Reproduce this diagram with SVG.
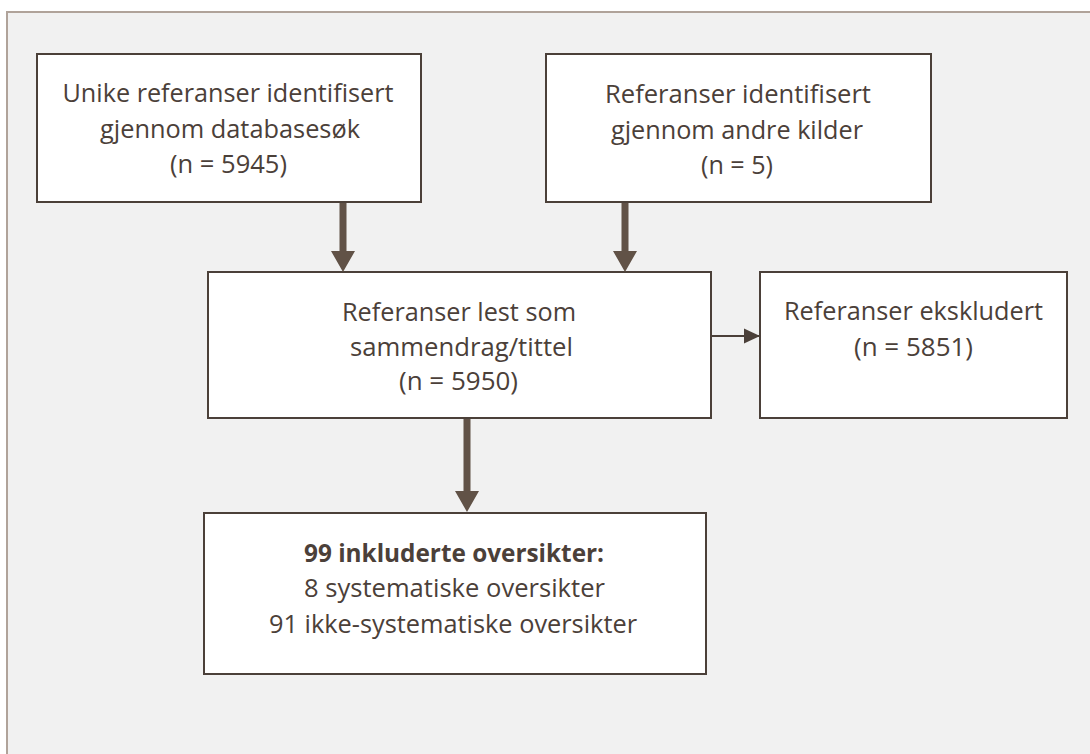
<svg xmlns="http://www.w3.org/2000/svg" width="1090" height="754" viewBox="0 0 1090 754">
<style>
.box{fill:#ffffff;stroke:#4b4039;stroke-width:2}
.t{font-family:"Open Sans","Liberation Sans",sans-serif;font-size:25px;fill:#4b4039;text-anchor:middle}
.b{font-weight:bold}
.thick{fill:#615247}
.thin{stroke:#4b4039;stroke-width:2;fill:none}
</style>
<defs>
<marker id="ah" markerUnits="userSpaceOnUse" markerWidth="16" markerHeight="16" refX="16" refY="8" orient="auto">
<path d="M0,0.5 L16,8 L0,15.5 Z" fill="#4b4039"/>
</marker>
</defs>
<rect x="0" y="0" width="1090" height="754" fill="#ffffff"/>
<rect x="7" y="12" width="1100" height="800" fill="#f1f1f1" stroke="#b0a39a" stroke-width="2"/>
<g id="n1">
<rect class="box" x="37" y="54" width="384" height="148"/>
<text class="t" x="228" y="102" textLength="331" lengthAdjust="spacingAndGlyphs">Unike referanser identifisert</text>
<text class="t" x="230" y="138" textLength="260" lengthAdjust="spacingAndGlyphs">gjennom databasesøk</text>
<text class="t" x="228.5" y="173" textLength="117" lengthAdjust="spacingAndGlyphs">(n = 5945)</text>
</g>
<g id="n2">
<rect class="box" x="546" y="54" width="385" height="148"/>
<text class="t" x="738" y="103" textLength="266" lengthAdjust="spacingAndGlyphs">Referanser identifisert</text>
<text class="t" x="737" y="139" textLength="252" lengthAdjust="spacingAndGlyphs">gjennom andre kilder</text>
<text class="t" x="737" y="174" textLength="72" lengthAdjust="spacingAndGlyphs">(n = 5)</text>
</g>
<g id="n3">
<rect class="box" x="208" y="272" width="503" height="146"/>
<text class="t" x="459" y="321" textLength="234" lengthAdjust="spacingAndGlyphs">Referanser lest som</text>
<text class="t" x="461.5" y="356" textLength="223" lengthAdjust="spacingAndGlyphs">sammendrag/tittel</text>
<text class="t" x="458.5" y="390" textLength="119" lengthAdjust="spacingAndGlyphs">(n = 5950)</text>
</g>
<g id="n4">
<rect class="box" x="760" y="272" width="307" height="146"/>
<text class="t" x="913.5" y="320" textLength="259" lengthAdjust="spacingAndGlyphs">Referanser ekskludert</text>
<text class="t" x="913.5" y="356" textLength="119" lengthAdjust="spacingAndGlyphs">(n = 5851)</text>
</g>
<g id="n5">
<rect class="box" x="204" y="513" width="502" height="161"/>
<text class="t b" x="454" y="562" textLength="300" lengthAdjust="spacingAndGlyphs">99 inkluderte oversikter:</text>
<text class="t" x="454.5" y="597" textLength="301" lengthAdjust="spacingAndGlyphs">8 systematiske oversikter</text>
<text class="t" x="453" y="633" textLength="368" lengthAdjust="spacingAndGlyphs">91 ikke-systematiske oversikter</text>
</g>
<g id="connectors">
<polygon class="thick" points="339.5,203 346.5,203 346.5,251 355,251 343,272 331,251 339.5,251"/>
<polygon class="thick" points="621.5,203 628.5,203 628.5,251 637,251 625,272 613,251 621.5,251"/>
<polygon class="thick" points="463.5,419 470.5,419 470.5,491 479,491 467,512 455,491 463.5,491"/>
<line class="thin" x1="711" y1="336" x2="760" y2="336" marker-end="url(#ah)"/>
</g>
</svg>
